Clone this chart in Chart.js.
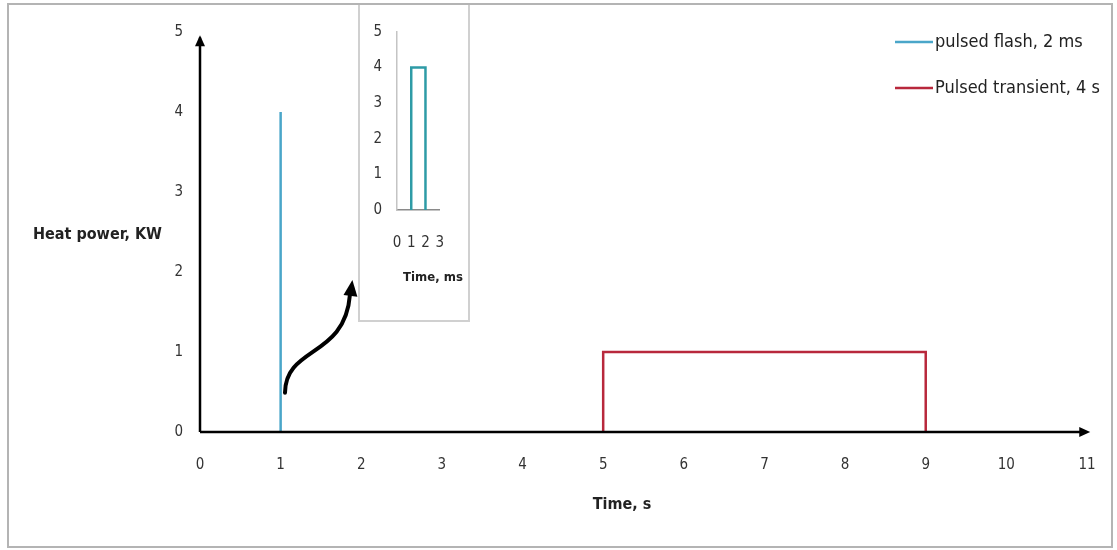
<!DOCTYPE html>
<html>
<head>
<meta charset="utf-8">
<script src="https://cdn.jsdelivr.net/npm/chart.js@4.4.1/dist/chart.umd.min.js"></script>
<style>
    html, body { margin: 0; padding: 0; background: #fff; }
    #wrap { position: relative; width: 1117px; height: 550px; overflow: hidden; }
    #mainBox { position: absolute; left: 0; top: 0; width: 1117px; height: 550px; }
    #frame { position: absolute; left: 7px; top: 3px; width: 1106px; height: 545px; border: 2px solid #b4b4b4; box-sizing: border-box; pointer-events: none; }
    #insetBox { position: absolute; left: 358px; top: 3px; width: 112px; height: 319px; border: 2px solid #d0d0d0; box-sizing: border-box; background: #fff; }
    #insetInner { position: relative; width: 108px; height: 315px; }
</style>
</head>
<body>
<div id="wrap">
    <div id="mainBox"><canvas id="mainChart"></canvas></div>
    <div id="insetBox"><div id="insetInner"><canvas id="insetChart"></canvas></div></div>
    <div id="frame"></div>
</div>
<script>
// main chart data (time in s, power in kW)
const flashTime = [1, 1];
const flashPower = [0, 4];
const transientTime = [5, 5, 9, 9];
const transientPower = [0, 1, 1, 0];
const seriesNames = ['pulsed flash, 2 ms', 'Pulsed transient, 4 s'];
const xTicks = [0, 1, 2, 3, 4, 5, 6, 7, 8, 9, 10, 11];
const yTicks = [0, 1, 2, 3, 4, 5];

// inset data (time in ms)
const insetTime = [1, 1, 2, 2];
const insetPower = [0, 4, 4, 0];
const insetXTicks = [0, 1, 2, 3];
const insetYTicks = [0, 1, 2, 3, 4, 5];

const FONT = "'Liberation Sans Narrow', 'DejaVu Sans Condensed', 'Open Sans', sans-serif";
Chart.defaults.font.family = FONT;
Chart.defaults.color = '#333';

const toPoints = (xs, ys) => xs.map((v, i) => ({ x: v, y: ys[i] }));

function drawArrowHead(ctx, fx, fy, tx, ty, len, half) {
    const a = Math.atan2(ty - fy, tx - fx);
    ctx.beginPath();
    ctx.moveTo(tx, ty);
    ctx.lineTo(tx - len * Math.cos(a) + half * Math.sin(a), ty - len * Math.sin(a) - half * Math.cos(a));
    ctx.lineTo(tx - len * Math.cos(a) - half * Math.sin(a), ty - len * Math.sin(a) + half * Math.cos(a));
    ctx.closePath();
    ctx.fill();
}

const mainDecor = {
    id: 'mainDecor',
    afterDatasetsDraw(chart) {
        const { ctx, scales: { x, y } } = chart;
        const px = v => x.getPixelForValue(v);
        const py = v => y.getPixelForValue(v);
        ctx.save();
        ctx.strokeStyle = '#000';
        ctx.fillStyle = '#000';
        ctx.lineWidth = 2.5;

        // axes with arrow heads
        ctx.beginPath();
        ctx.moveTo(px(0), py(0));
        ctx.lineTo(px(0), py(4.93));
        ctx.moveTo(px(0), py(0));
        ctx.lineTo(px(10.98), py(0));
        ctx.stroke();
        drawArrowHead(ctx, px(0), py(0), px(0), py(4.96), 11, 5);
        drawArrowHead(ctx, px(0), py(0), px(11.04), py(0), 11, 5);

        // curved pointer to the inset
        ctx.lineWidth = 4;
        ctx.lineCap = 'round';
        ctx.beginPath();
        ctx.moveTo(px(1.054), py(0.49));
        ctx.bezierCurveTo(px(1.06), py(1.08), px(1.80), py(0.92), px(1.86), py(1.72));
        ctx.stroke();
        drawArrowHead(ctx, px(1.835), py(1.45), px(1.89), py(1.9), 16, 7);
        ctx.restore();
    },
    afterDraw(chart) {
        const { ctx } = chart;
        ctx.save();
        // legend
        const rows = [42, 88];
        chart.data.datasets.forEach((ds, i) => {
            ctx.strokeStyle = ds.borderColor;
            ctx.lineWidth = 2.5;
            ctx.beginPath();
            ctx.moveTo(895, rows[i]);
            ctx.lineTo(933, rows[i]);
            ctx.stroke();
            ctx.fillStyle = '#222';
            ctx.font = '18px ' + FONT;
            ctx.textBaseline = 'middle';
            ctx.textAlign = 'left';
            ctx.fillText(ds.label, 935, rows[i]);
        });
        // axis titles
        ctx.fillStyle = '#222';
        ctx.font = 'bold 16px ' + FONT;
        ctx.textBaseline = 'middle';
        ctx.textAlign = 'left';
        ctx.fillText('Heat power, KW', 33, 235);
        ctx.textAlign = 'center';
        ctx.fillText('Time, s', 622, 505);
        ctx.restore();
    }
};

const mainChart = new Chart(document.getElementById('mainChart').getContext('2d'), {
    type: 'line',
    data: {
        datasets: [{
            label: seriesNames[0],
            data: toPoints(flashTime, flashPower),
            borderColor: '#4AA6C9',
            borderWidth: 2.5,
            pointRadius: 0,
            tension: 0
        }, {
            label: seriesNames[1],
            data: toPoints(transientTime, transientPower),
            borderColor: '#B8283C',
            borderWidth: 2.5,
            pointRadius: 0,
            tension: 0
        }]
    },
    options: {
        responsive: true,
        maintainAspectRatio: false,
        animation: false,
        layout: { padding: { left: 0, top: 32, right: 30, bottom: 0 } },
        plugins: { legend: { display: false }, tooltip: { enabled: false } },
        scales: {
            x: {
                type: 'linear',
                min: 0,
                max: 11,
                afterBuildTicks: s => { s.ticks = xTicks.map(v => ({ value: v })); },
                afterFit: s => { s.height = 118; s.paddingLeft = 0; s.paddingRight = 0; },
                grid: { display: false, drawTicks: false },
                border: { display: false },
                ticks: { padding: 24, font: { size: 15 }, color: '#333', maxRotation: 0, autoSkip: false }
            },
            y: {
                type: 'linear',
                min: 0,
                max: 5,
                afterBuildTicks: s => { s.ticks = yTicks.map(v => ({ value: v })); },
                afterFit: s => { s.width = 200; s.paddingTop = 0; s.paddingBottom = 0; },
                grid: { display: false, drawTicks: false },
                border: { display: false },
                ticks: { padding: 17, font: { size: 15 }, color: '#333' }
            }
        }
    },
    plugins: [mainDecor]
});

const insetDecor = {
    id: 'insetDecor',
    afterDraw(chart) {
        const { ctx } = chart;
        ctx.save();
        ctx.fillStyle = '#222';
        ctx.font = 'bold 13px ' + FONT;
        ctx.textAlign = 'center';
        ctx.textBaseline = 'middle';
        ctx.fillText('Time, ms', 73, 273);
        ctx.restore();
    }
};

const insetChart = new Chart(document.getElementById('insetChart').getContext('2d'), {
    type: 'line',
    data: {
        datasets: [{
            label: seriesNames[0],
            data: toPoints(insetTime, insetPower),
            borderColor: '#2E9BA6',
            borderWidth: 2.5,
            pointRadius: 0,
            tension: 0
        }]
    },
    options: {
        responsive: true,
        maintainAspectRatio: false,
        animation: false,
        layout: { padding: { left: 0, top: 27, right: 26, bottom: 0 } },
        plugins: { legend: { display: false }, tooltip: { enabled: false } },
        scales: {
            x: {
                type: 'linear',
                min: 0,
                max: 3,
                afterBuildTicks: s => { s.ticks = insetXTicks.map(v => ({ value: v })); },
                afterFit: s => { s.height = 110; },
                grid: { display: false, drawTicks: false },
                border: { display: true, color: '#8a8a8a', width: 1.5 },
                ticks: { padding: 24, font: { size: 15 }, color: '#333', maxRotation: 0, autoSkip: false }
            },
            y: {
                type: 'linear',
                min: 0,
                max: 5,
                afterBuildTicks: s => { s.ticks = insetYTicks.map(v => ({ value: v })); },
                afterFit: s => { s.width = 37; },
                grid: { display: false, drawTicks: false },
                border: { display: true, color: '#c4c4c4', width: 1.5 },
                ticks: { padding: 15, font: { size: 15 }, color: '#333' }
            }
        }
    },
    plugins: [insetDecor]
});
</script>
</body>
</html>
